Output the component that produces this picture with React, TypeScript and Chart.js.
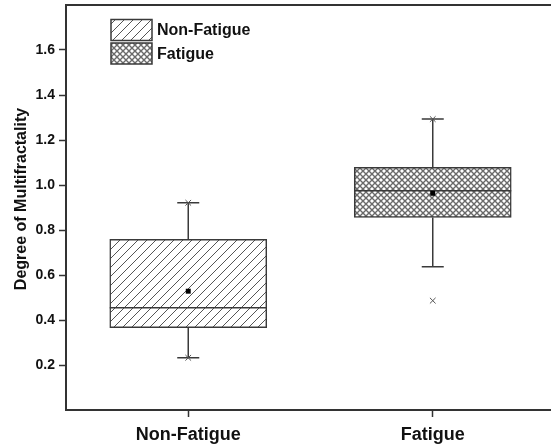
import { useEffect, useRef } from 'react';
import { Chart, registerables } from 'chart.js';

Chart.register(...registerables);

// Groups and box-plot statistics
const categories = ['Non-Fatigue', 'Fatigue'];
const q1 = [0.366, 0.856];
const median = [0.455, 0.975];
const q3 = [0.759, 1.079];
const mean = [0.528, 0.963];
const whiskerLow = [0.232, 0.637];
const whiskerHigh = [0.921, 1.293];
// min / max markers (x) for each group
const minima = [0.232, 0.486];
const maxima = [0.921, 1.293];
const yTicks = [0.2, 0.4, 0.6, 0.8, 1.0, 1.2, 1.4, 1.6];
const yTitle = 'Degree of Multifractality';

const FONT = '"Liberation Sans", Arial, Helvetica, sans-serif';
const INK = '#111';
const LINE = '#3a3a3a';

function hatchPattern(ctx: CanvasRenderingContext2D) {
  const s = 9;
  const c = document.createElement('canvas');
  c.width = s;
  c.height = s;
  const g = c.getContext('2d')!;
  g.fillStyle = '#fff';
  g.fillRect(0, 0, s, s);
  g.strokeStyle = '#555';
  g.lineWidth = 1;
  g.beginPath();
  g.moveTo(-1, s + 1);
  g.lineTo(s + 1, -1);
  g.moveTo(-1, 1);
  g.lineTo(1, -1);
  g.moveTo(s - 1, s + 1);
  g.lineTo(s + 1, s - 1);
  g.stroke();
  return ctx.createPattern(c, 'repeat')!;
}

function crossPattern(ctx: CanvasRenderingContext2D) {
  const s = 6;
  const c = document.createElement('canvas');
  c.width = s;
  c.height = s;
  const g = c.getContext('2d')!;
  g.fillStyle = '#fff';
  g.fillRect(0, 0, s, s);
  g.strokeStyle = '#6a6a6a';
  g.lineWidth = 1.4;
  g.beginPath();
  g.moveTo(-1, -1);
  g.lineTo(s + 1, s + 1);
  g.moveTo(-1, s + 1);
  g.lineTo(s + 1, -1);
  g.stroke();
  return ctx.createPattern(c, 'repeat')!;
}

export default function App() {
  const ref = useRef<HTMLCanvasElement>(null);

  useEffect(() => {
    const canvas = ref.current!;
    const ctx0 = canvas.getContext('2d')!;
    const fills = [hatchPattern(ctx0), crossPattern(ctx0)];

    const boxDetails = {
      id: 'boxDetails',
      afterDatasetDraw(chart: any, args: any) {
        const meta = args.meta;
        if (meta.type !== 'bar') return;
        const ds = chart.data.datasets[args.index];
        const { ctx } = chart;
        const y = chart.scales.y;
        meta.data.forEach((bar: any, i: number) => {
          if (!ds.data[i]) return;
          const cx = bar.x;
          const half = bar.width / 2;
          const cap = 11;
          const ym = y.getPixelForValue(median[i]);
          const y1 = y.getPixelForValue(q1[i]);
          const y3 = y.getPixelForValue(q3[i]);
          const lo = y.getPixelForValue(whiskerLow[i]);
          const hi = y.getPixelForValue(whiskerHigh[i]);
          ctx.save();
          ctx.strokeStyle = LINE;
          ctx.lineWidth = 1.5;
          ctx.beginPath();
          ctx.moveTo(cx - half, ym);
          ctx.lineTo(cx + half, ym);
          ctx.moveTo(cx, y3);
          ctx.lineTo(cx, hi);
          ctx.moveTo(cx, y1);
          ctx.lineTo(cx, lo);
          ctx.moveTo(cx - cap, hi);
          ctx.lineTo(cx + cap, hi);
          ctx.moveTo(cx - cap, lo);
          ctx.lineTo(cx + cap, lo);
          ctx.stroke();
          ctx.restore();
        });
      },
      afterDraw(chart: any) {
        const { ctx, chartArea } = chart;
        ctx.save();
        // top frame line
        ctx.strokeStyle = '#333';
        ctx.lineWidth = 2;
        ctx.beginPath();
        ctx.moveTo(chartArea.left, chartArea.top);
        ctx.lineTo(chartArea.right, chartArea.top);
        ctx.stroke();

        // legend
        const lx = chartArea.left + 45;
        const ly = chartArea.top + 14.5;
        const w = 41;
        const h = 21;
        ctx.font = `bold 16px ${FONT}`;
        ctx.textBaseline = 'middle';
        ctx.textAlign = 'left';
        categories.forEach((label, i) => {
          const top = ly + i * (h + 2.5);
          ctx.fillStyle = fills[i];
          ctx.fillRect(lx, top, w, h);
          ctx.strokeStyle = LINE;
          ctx.lineWidth = 1.5;
          ctx.strokeRect(lx, top, w, h);
          ctx.fillStyle = INK;
          ctx.fillText(label, lx + w + 5, top + h / 2 + 1);
        });

        // y-axis title
        ctx.translate(22, (chartArea.top + chartArea.bottom) / 2 - 8.5);
        ctx.rotate(-Math.PI / 2);
        ctx.textAlign = 'center';
        ctx.textBaseline = 'middle';
        ctx.fillStyle = INK;
        ctx.font = `bold 16px ${FONT}`;
        ctx.fillText(yTitle, 0, 0);
        ctx.restore();
      },
    };

    const chart = new Chart(canvas, {
      type: 'bar',
      data: {
        labels: categories,
        datasets: [
          {
            type: 'line',
            label: 'Mean',
            data: categories.map((c, i) => ({ x: c, y: mean[i] })),
            showLine: false,
            pointStyle: 'rect',
            pointRadius: 3.5,
            pointBackgroundColor: '#000',
            pointBorderColor: '#000',
            pointBorderWidth: 0,
          },
          {
            type: 'line',
            label: 'Min/Max',
            data: categories.flatMap((c, i) => [
              { x: c, y: minima[i] },
              { x: c, y: maxima[i] },
            ]),
            showLine: false,
            pointStyle: 'crossRot',
            pointRadius: 4,
            pointBorderColor: '#555',
            pointBorderWidth: 1,
          },
          {
            type: 'bar',
            label: categories[1],
            data: [null, [q1[1], q3[1]]],
            backgroundColor: fills[1],
            borderColor: LINE,
            borderWidth: 1.5,
            borderSkipped: false,
            barThickness: 157,
            grouped: false,
          },
          {
            type: 'bar',
            label: categories[0],
            data: [[q1[0], q3[0]], null],
            backgroundColor: fills[0],
            borderColor: LINE,
            borderWidth: 1.5,
            borderSkipped: false,
            barThickness: 157,
            grouped: false,
          },
        ] as any,
      },
      options: {
        responsive: false,
        animation: false,
        events: [],
        layout: { padding: { top: 5, right: 3, left: 0, bottom: 0 } },
        plugins: { legend: { display: false }, tooltip: { enabled: false } },
        scales: {
          x: {
            type: 'category',
            offset: true,
            grid: {
              display: true,
              drawOnChartArea: false,
              drawTicks: true,
              tickLength: 7,
              tickWidth: 1.5,
              tickColor: '#333',
              offset: false,
            },
            border: { display: true, color: '#333', width: 2 },
            ticks: {
              font: { family: FONT, size: 18, weight: 'bold' },
              color: INK,
              padding: 7,
            },
            afterFit(s: any) {
              s.height = 38;
              s.paddingLeft = 0;
              s.paddingRight = 0;
            },
          },
          y: {
            min: 0,
            max: 1.8,
            afterBuildTicks(s: any) {
              s.ticks = yTicks.map((v) => ({ value: v }));
            },
            grid: {
              display: true,
              drawOnChartArea: false,
              drawTicks: true,
              tickLength: 7,
              tickWidth: 1.5,
              tickColor: '#333',
            },
            border: { display: true, color: '#333', width: 2 },
            ticks: {
              font: { family: FONT, size: 14, weight: 'bold' },
              color: INK,
              padding: 4,
              callback: (v: any) => Number(v).toFixed(1),
            },
            afterFit(s: any) {
              s.width = 66;
              s.paddingTop = 0;
              s.paddingBottom = 0;
            },
          },
        },
      } as any,
      plugins: [boxDetails],
    });

    return () => chart.destroy();
  }, []);

  return (
    <div
      style={{
        position: 'fixed',
        left: 0,
        top: 0,
        width: 551,
        height: 448,
        overflow: 'hidden',
        background: '#fff',
      }}
    >
      <canvas ref={ref} width={560} height={448} style={{ display: 'block', width: 560, height: 448 }} />
    </div>
  );
}
